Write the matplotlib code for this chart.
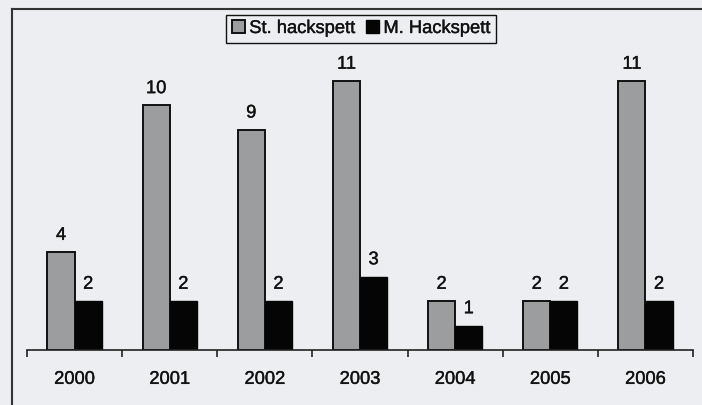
import matplotlib
matplotlib.use("Agg")
import matplotlib.pyplot as plt
import matplotlib.patheffects as pe
from matplotlib.lines import Line2D
import numpy as np

years = ["2000", "2001", "2002", "2003", "2004", "2005", "2006"]
st_hackspett = [4, 10, 9, 11, 2, 2, 11]
m_hackspett = [2, 2, 2, 3, 1, 2, 2]
series_names = ["St. hackspett", "M. Hackspett"]

plt.rcParams['font.family'] = ['Liberation Sans', 'DejaVu Sans']
bg = '#eceef1'
fs = 13.2
thick = [pe.withStroke(linewidth=0.3, foreground='#222222')]

fig = plt.figure(figsize=(7.02, 4.05), dpi=100, facecolor=bg)
W, H = 702, 405
ax = fig.add_axes([27 / W, 55 / H, 666 / W, 336 / H])
ax.set_facecolor(bg)

x = np.arange(len(years))
w = 0.285
b1 = ax.bar(x - w / 2, st_hackspett, w, color='#9c9d9f', edgecolor='#111111',
            linewidth=1.4, label=series_names[0])
b2 = ax.bar(x + w / 2, m_hackspett, w, color='#050505', edgecolor='#050505',
            linewidth=1.0, label=series_names[1])
for t in ax.bar_label(b1, fontsize=fs, padding=6, color='#111111'):
    t.set_path_effects(thick)
for t in ax.bar_label(b2, fontsize=fs, padding=6, color='#111111'):
    t.set_path_effects(thick)

ax.set_xlim(-0.5, len(years) - 0.5)
ax.set_ylim(0, 13.74)
for s in ['top', 'right', 'left']:
    ax.spines[s].set_visible(False)
ax.spines['bottom'].set_linewidth(1.2)
ax.spines['bottom'].set_color('#222222')
ax.set_yticks([])
ax.set_xticks(np.arange(-0.5, len(years), 1.0))
ax.set_xticklabels([])
ax.tick_params(axis='x', which='major', direction='out', length=5, width=1.2, color='#222222')
ax.set_xticks(x, minor=True)
ax.set_xticklabels(years, minor=True, fontsize=fs, color='#111111')
ax.tick_params(axis='x', which='minor', length=0, pad=15)
for t in ax.get_xticklabels(minor=True):
    t.set_path_effects(thick)

leg = ax.legend(loc='center', bbox_to_anchor=(361 / W, 1 - 28.5 / H),
                bbox_transform=fig.transFigure, ncol=2, frameon=True,
                fancybox=False, edgecolor='#111111', facecolor=bg, framealpha=1,
                fontsize=fs, handlelength=0.7, handleheight=0.7,
                handletextpad=0.25, columnspacing=0.6, borderpad=0.3,
                borderaxespad=0)
leg.get_frame().set_linewidth(1.0)
for t in leg.get_texts():
    t.set_color('#111111')
    t.set_path_effects(thick)

fig.add_artist(Line2D([12 / W, 1.0], [1 - 9 / H, 1 - 9 / H], transform=fig.transFigure,
                      color='#333333', linewidth=1.5))
fig.add_artist(Line2D([12 / W, 12 / W], [0, 1 - 9 / H], transform=fig.transFigure,
                      color='#333333', linewidth=1.5))

fig.savefig('out.png', dpi=100, facecolor=bg)
